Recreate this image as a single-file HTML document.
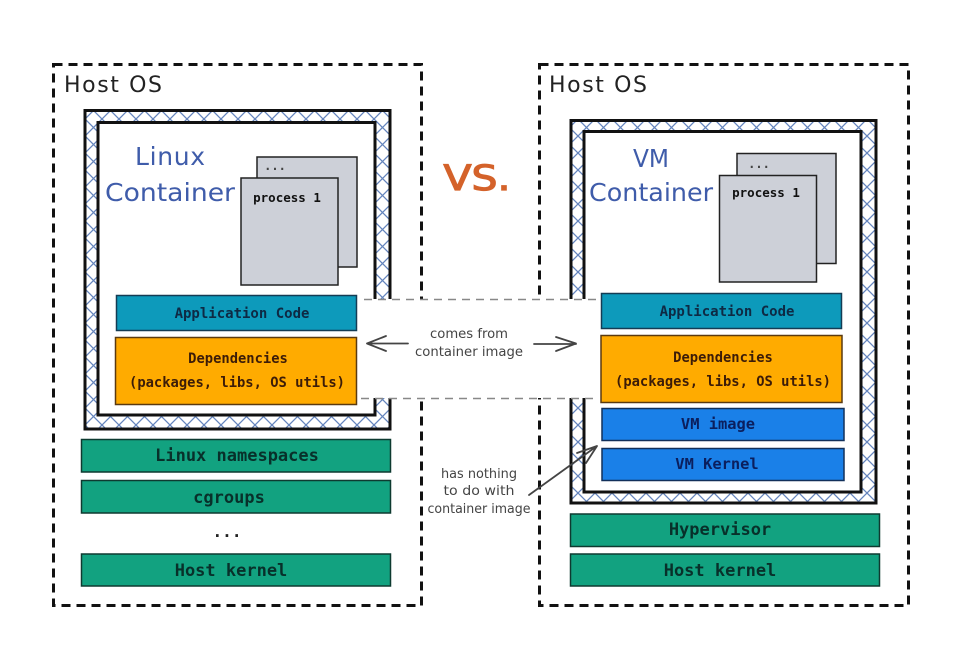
<!DOCTYPE html>
<html><head><meta charset="utf-8"><style>
html,body{margin:0;padding:0;background:#fff}
svg{display:block}
.m{font-family:"DejaVu Sans Mono","Liberation Mono",monospace;text-anchor:middle;font-weight:bold}
.h{font-family:"DejaVu Sans","Liberation Sans",sans-serif;text-anchor:middle}
</style></head><body>
<svg width="960" height="670" viewBox="0 0 960 670" xmlns="http://www.w3.org/2000/svg">
<defs>
<pattern id="x" width="17" height="17" patternUnits="userSpaceOnUse">
<path d="M0 0L17 17M17 0L0 17" stroke="#6585bd" stroke-width="1.300" fill="none"/>
</pattern>
</defs>
<rect width="960" height="670" fill="#fff"/>
<g fill="none" stroke="#111" stroke-width="3" stroke-dasharray="9 6">
<rect x="53.500" y="64.500" width="368" height="541"/>
<rect x="539.500" y="64.500" width="369" height="541"/>
</g>
<text x="64" y="92" style="font-family:'DejaVu Sans',sans-serif;font-size:22px" fill="#222" textLength="98" lengthAdjust="spacing">Host OS</text>
<text x="549" y="92" style="font-family:'DejaVu Sans',sans-serif;font-size:22px" fill="#222" textLength="98" lengthAdjust="spacing">Host OS</text>

<rect x="85" y="110.500" width="305" height="318.500" fill="url(#x)" stroke="#111" stroke-width="3"/>
<rect x="98" y="122.500" width="277" height="292.500" fill="#fff" stroke="#111" stroke-width="3"/>
<rect x="571" y="120.500" width="305" height="382.500" fill="url(#x)" stroke="#111" stroke-width="3"/>
<rect x="584" y="131.500" width="277" height="360.500" fill="#fff" stroke="#111" stroke-width="3"/>

<rect x="358" y="299" width="242" height="99" fill="#fff"/>
<g stroke="#888" stroke-width="1.500" stroke-dasharray="8 6" fill="none">
<path d="M364 299.500H600"/><path d="M361 398.500H596"/>
</g>

<g fill="#cdd0d8" stroke="#222" stroke-width="1.500">
<rect x="257" y="157" width="100" height="110"/>
<rect x="241" y="178" width="97" height="107"/>
<rect x="737" y="153.500" width="99" height="110"/>
<rect x="719.500" y="175.500" width="97" height="106.500"/>
</g>
<text class="m" x="275" y="170" font-size="12" fill="#444">...</text>
<text class="m" x="287" y="202" font-size="12.500" fill="#111">process 1</text>
<text class="m" x="759" y="168" font-size="12" fill="#444">...</text>
<text class="m" x="766" y="197" font-size="12.500" fill="#111">process 1</text>

<g class="h" fill="#3f5caa" font-size="25">
<text x="170" y="165" textLength="70" lengthAdjust="spacing">Linux</text>
<text x="170" y="201" textLength="130" lengthAdjust="spacingAndGlyphs">Container</text>
<text x="651" y="167" textLength="36" lengthAdjust="spacingAndGlyphs">VM</text>
<text x="651" y="201" textLength="124" lengthAdjust="spacingAndGlyphs">Container</text>
</g>

<text x="477" y="190" class="h" font-size="35" fill="#d4622a" stroke="#d4622a" stroke-width="1.200" textLength="67" lengthAdjust="spacingAndGlyphs">VS.</text>

<g stroke="#143c54" stroke-width="1.500">
<rect x="116.500" y="295.500" width="240" height="35" fill="#0d9abb"/>
<rect x="601.500" y="293.500" width="240" height="35" fill="#0d9abb"/>
</g>
<g stroke="#5a3a10" stroke-width="1.500" fill="#ffab00">
<rect x="115.500" y="337.500" width="241" height="67"/>
<rect x="601" y="335.500" width="241" height="67"/>
</g>
<g stroke="#12305a" stroke-width="1.500" fill="#1a80e8">
<rect x="602" y="408.500" width="242" height="32"/>
<rect x="602" y="448.500" width="242" height="32"/>
</g>
<g stroke="#0e3a30" stroke-width="1.500" fill="#12a280">
<rect x="81.500" y="439.500" width="309" height="32.500"/>
<rect x="81.500" y="480.500" width="309" height="32.500"/>
<rect x="81.500" y="554" width="309" height="32"/>
<rect x="570.500" y="514" width="309" height="32.500"/>
<rect x="570.500" y="554" width="309" height="32"/>
</g>

<g class="m" font-size="14" fill="#0e2a44">
<text x="242" y="318">Application Code</text>
<text x="727" y="316">Application Code</text>
</g>
<g class="m" font-size="13.800" fill="#3c1c08">
<text x="238" y="363">Dependencies</text>
<text x="237" y="387">(packages, libs, OS utils)</text>
<text x="723" y="362">Dependencies</text>
<text x="723" y="386">(packages, libs, OS utils)</text>
</g>
<g class="m" font-size="15.400" fill="#0b1f5e">
<text x="718" y="429">VM image</text>
<text x="717" y="469">VM Kernel</text>
</g>
<g class="m" font-size="17" fill="#08302a">
<text x="237" y="461">Linux namespaces</text>
<text x="229" y="503">cgroups</text>
<text x="231" y="576">Host kernel</text>
<text x="720" y="535">Hypervisor</text>
<text x="720" y="576">Host kernel</text>
</g>
<text class="m" x="227" y="537" font-size="16" fill="#222">...</text>

<g fill="none" stroke="#444" stroke-width="1.800" stroke-linecap="round" stroke-linejoin="round">
<path d="M408 343.500H367M386 336L367 343.500L386 351"/>
<path d="M534 344H576M556 337L576 343.500L556 351"/>
<path d="M529 495L597 446M577 453L597 446L586 463"/>
</g>
<g class="h" font-size="13" fill="#444">
<text x="469" y="338" textLength="78" lengthAdjust="spacingAndGlyphs">comes from</text>
<text x="469" y="356" textLength="108" lengthAdjust="spacingAndGlyphs">container image</text>
<text x="479" y="478" textLength="76" lengthAdjust="spacingAndGlyphs">has nothing</text>
<text x="479" y="495" textLength="71" lengthAdjust="spacingAndGlyphs">to do with</text>
<text x="479" y="513" textLength="103" lengthAdjust="spacingAndGlyphs">container image</text>
</g>
</svg>
</body></html>
